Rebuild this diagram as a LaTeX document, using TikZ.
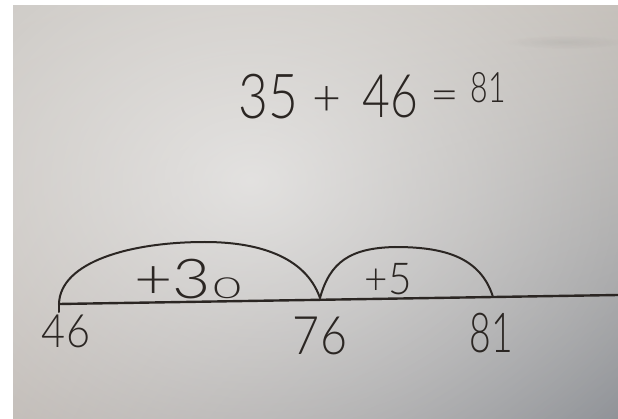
\documentclass[tikz,border=0pt]{standalone}
\usepackage{fontspec}
\setmainfont{Lato}[UprightFont=* Light]
\usetikzlibrary{fadings,shadings}
\definecolor{ink}{HTML}{2B2623}
\definecolor{paperUL}{HTML}{C4C0BB}
\definecolor{paperUR}{HTML}{C2BDB7}
\definecolor{paperLL}{HTML}{BCB6B1}
\definecolor{paperLR}{HTML}{8F9297}
\tikzfading[name=softglow, inner color=transparent!0, outer color=transparent!100]
\newcommand\handtxt[3]{\scalebox{#2}[1]{\fontsize{#1}{#1}\selectfont #3}}
\tikzset{
  hand/.style={inner sep=0pt, text=ink},
  pen/.style={draw=ink, line width=2pt, line cap=round, line join=round},
  axisline/.style={draw=ink, line width=2.4pt, line cap=round}
}
\begin{document}
\begin{tikzpicture}[x=1pt,y=-1pt]
\useasboundingbox (0,0) rectangle (618,419);
% photo background
\fill[white] (0,0) rectangle (618,419);
\shade[upper left=paperUL, upper right=paperUR, lower left=paperLL, lower right=paperLR] (13,6) rectangle (618,419);
\begin{scope}
\clip (13,6) rectangle (618,419);
\fill[white, opacity=0.6, path fading=softglow, fit fading=true] (250,180) ellipse (480 and 380);
\fill[black, opacity=0.05, path fading=softglow, fit fading=true] (565,42) ellipse (60 and 7);
\end{scope}
% equation
\node[hand] (eq35) at (268,97) {\handtxt{62}{0.83}{35}};
\node[hand] (eqplus) at (327,101) {\handtxt{50}{1}{+}};
\node[hand] (eq46) at (390,96) {\handtxt{60}{0.8}{46}};
\node[hand] (eqeq) at (445,101) {\handtxt{45}{1.1}{=}};
\node[hand] (eq81) at (488,88) {\handtxt{42}{0.72}{81}};
% number line points
\coordinate (lineend) at (618,295);
\coordinate (p46) at (59,304);
\coordinate (tick46) at (59,312);
\coordinate (p76) at (320,298);
\coordinate (p81) at (493,297);
\draw[axisline] (p46) -- (lineend);
\draw[pen] (tick46) -- (p46);
% jumps
\draw[pen] (p46) .. controls (60,262) and (130,242) .. (205,242)
  .. controls (255,242) and (305,255) .. (p76);
\draw[pen] (p76) .. controls (330,262) and (350,248) .. (395,247)
  .. controls (440,247) and (480,255) .. (p81);
% jump labels
\node[hand, anchor=base] (j30) at (188,299) {\scalebox{1.2}[1]{\fontsize{55}{55}\selectfont +3}\,\scalebox{1.7}[1]{\fontsize{29}{29}\selectfont 0}};
\node[hand] (j5) at (388,279) {\handtxt{44}{0.92}{+5}};
% point labels
\node[hand] (l46) at (66,331) {\handtxt{46}{0.9}{46}};
\node[hand] (l76) at (320,336) {\handtxt{53}{0.88}{76}};
\node[hand] (l81) at (491,333) {\handtxt{55}{0.68}{81}};
\end{tikzpicture}
\end{document}
